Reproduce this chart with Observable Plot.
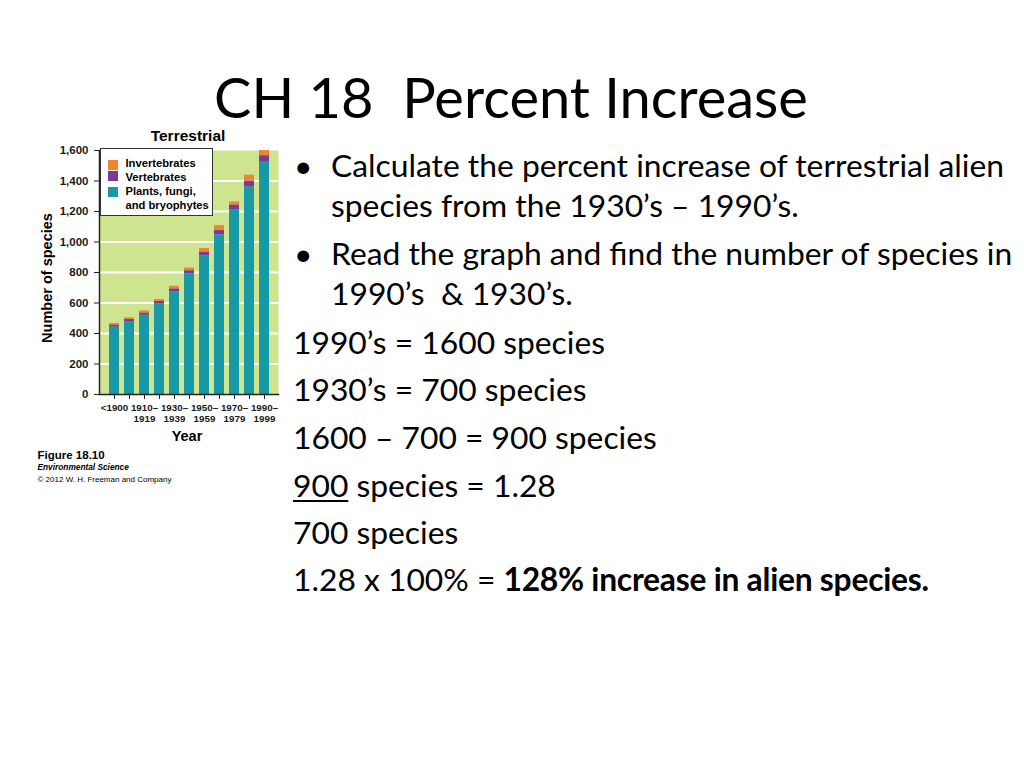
<!DOCTYPE html>
<html>
<head>
<meta charset="utf-8">
<script src="https://cdn.jsdelivr.net/npm/d3@7"></script>
<script src="https://cdn.jsdelivr.net/npm/@observablehq/plot@0.6"></script>
<style>
  html, body { margin: 0; padding: 0; background: #fff; }
  #page { position: relative; width: 1024px; height: 768px; overflow: hidden; background: #fff; }
  .t { position: absolute; white-space: nowrap; line-height: 1; color: #000; }
  #chart { position: absolute; left: 30px; top: 140px; }
  #legend { position: absolute; left: 100px; top: 148px; width: 113px; height: 68px; background: #fff; border: 1px solid #333; box-sizing: border-box; }
  .sw { position: absolute; width: 10px; height: 10px; }
</style>
</head>
<body>
<div id="page"></div>
<script>
// ---------- data ----------
const periods = ["<1900", "1900–1909", "1910–1919", "1920–1929", "1930–1939", "1940–1949", "1950–1959", "1960–1969", "1970–1979", "1980–1989", "1990–1999"];
const periodLabels = ["<1900", "", "1910–\n1919", "", "1930–\n1939", "", "1950–\n1959", "", "1970–\n1979", "", "1990–\n1999"];
const plants = [442, 478, 520, 592, 673, 790, 908, 1047, 1210, 1360, 1528];
const vertebrates = [14, 15, 15, 18, 20, 22, 27, 28, 33, 40, 38];
const invertebrates = [10, 10, 13, 13, 17, 17, 22, 33, 20, 38, 34];
const seriesNames = ["Plants, fungi, and bryophytes", "Vertebrates", "Invertebrates"];
const seriesColors = ["#189aa6", "#7b3a94", "#ef8533"];
const legendOrder = ["Invertebrates", "Vertebrates", "Plants, fungi,\nand bryophytes"];
const yTicks = [0, 200, 400, 600, 800, 1000, 1200, 1400, 1600];
const gridTicks = [200, 400, 600, 800, 1000, 1200, 1400];

const rows = [];
periods.forEach((p, i) => {
  rows.push({period: p, series: seriesNames[0], value: plants[i]});
  rows.push({period: p, series: seriesNames[1], value: vertebrates[i]});
  rows.push({period: p, series: seriesNames[2], value: invertebrates[i]});
});
const labelMap = new Map(periods.map((p, i) => [p, periodLabels[i]]));

const page = document.getElementById("page");

// place text by baseline
const ASC = {lato: 0.887, lib: 0.8465};
function place(html, x, baseline, size, opts = {}) {
  const fam = opts.family || "lato";
  const d = document.createElement("div");
  d.className = "t";
  d.innerHTML = html;
  d.style.fontFamily = fam === "lato" ? "Lato, 'Open Sans', sans-serif" : "'Liberation Sans', Arial, sans-serif";
  d.style.fontSize = size + "px";
  d.style.fontWeight = opts.weight || "normal";
  if (opts.italic) d.style.fontStyle = "italic";
  const top = baseline - ASC[fam] * size;
  d.style.top = top + "px";
  if (opts.center) {
    d.style.left = (x - 500) + "px";
    d.style.width = "1000px";
    d.style.textAlign = "center";
  } else {
    d.style.left = x + "px";
  }
  if (opts.z) d.style.zIndex = opts.z;
  page.appendChild(d);
  return d;
}

// ---------- chart ----------
const chart = Plot.plot({
  width: 256,
  height: 302,
  marginLeft: 69,
  marginRight: 8,
  marginTop: 10,
  marginBottom: 48,
  style: {fontFamily: "'Liberation Sans', Arial, sans-serif", fontWeight: "bold", fontSize: "11.5px", color: "#1a1a1a", background: "transparent", overflow: "visible"},
  x: {domain: periods, paddingInner: 0.36, paddingOuter: 0.46, label: null},
  y: {domain: [0, 1600], label: null},
  color: {domain: seriesNames, range: seriesColors},
  marks: [
    Plot.frame({fill: "#cfe48e", stroke: "none"}),
    Plot.ruleY(gridTicks, {stroke: "white", strokeWidth: 2}),
    Plot.barY(rows, {x: "period", y: "value", fill: "series"}),
    Plot.axisY({ticks: yTicks, tickFormat: d3.format(","), tickSize: 5, tickPadding: 6, label: null, stroke: "#222"}),
    Plot.axisX({tickFormat: d => labelMap.get(d), tickSize: 5, tickPadding: 4, label: null, lineHeight: 1.12, fontSize: 9.8, stroke: "#222"}),
    Plot.frame({anchor: "left", stroke: "#222", strokeWidth: 1.5}),
    Plot.frame({anchor: "bottom", stroke: "#222", strokeWidth: 1.5})
  ]
});
const holder = document.createElement("div");
holder.id = "chart";
holder.appendChild(chart);
page.appendChild(holder);

// legend (built from series arrays)
const legend = document.createElement("div");
legend.id = "legend";
page.appendChild(legend);
const legendColors = [seriesColors[2], seriesColors[1], seriesColors[0]];
const swTops = [10.5, 21.5, 37.5];
legendOrder.forEach((name, i) => {
  const s = document.createElement("div");
  s.className = "sw";
  s.style.left = "7px";
  s.style.top = swTops[i] + "px";
  s.style.background = legendColors[i];
  legend.appendChild(s);
});
place("Invertebrates", 125.5, 167, 11.2, {family: "lib", weight: "bold", z: 5});
place("Vertebrates", 125.5, 181, 11.2, {family: "lib", weight: "bold", z: 5});
place("Plants, fungi,", 125.5, 195, 11.2, {family: "lib", weight: "bold", z: 5});
place("and bryophytes", 125.5, 209, 11.2, {family: "lib", weight: "bold", z: 5});

// chart titles
place("Terrestrial", 188, 141.5, 15.5, {family: "lib", weight: "bold", center: true});
place("Year", 187, 441.5, 14.5, {family: "lib", weight: "bold", center: true});
const yl = place("Number of species", 0, 0, 14.5, {family: "lib", weight: "bold"});
yl.style.left = (47 - 80) + "px";
yl.style.width = "160px";
yl.style.textAlign = "center";
yl.style.top = (278 - 7) + "px";
yl.style.transform = "rotate(-90deg)";
yl.style.transformOrigin = "80px 7px";

// figure caption
place("Figure 18.10", 37.5, 460, 11.5, {family: "lib", weight: "bold"});
place("Environmental Science", 37.5, 470.5, 8.3, {family: "lib", weight: "bold", italic: true});
place("© 2012 W. H. Freeman and Company", 37.5, 482.5, 8, {family: "lib"});

// ---------- slide text ----------
place("CH 18&nbsp; Percent Increase", 511, 119, 56, {center: true});
const FS = 31.8;
place("•", 294, 178, FS);
place("Calculate the percent increase of terrestrial alien", 331, 178, FS);
place("species from the 1930’s – 1990’s.", 331, 218, FS);
place("•", 294, 266, FS);
place("Read the graph and find the number of species in", 331, 266, FS);
place("1990’s&nbsp; &amp; 1930’s.", 331, 306.5, FS);
place("1990’s = 1600 species", 293, 355, FS);
place("1930’s = 700 species", 293, 402.5, FS);
place("1600 – 700 = 900 species", 293, 450.5, FS);
place("<u style='text-decoration-thickness:2px;text-underline-offset:3px'>900</u> species = 1.28", 293, 498, FS);
place("700 species", 293, 545, FS);
place("1.28 x 100% = <b style='letter-spacing:-0.25px'>128% increase in alien species.</b>", 293, 592, FS);
</script>
</body>
</html>
